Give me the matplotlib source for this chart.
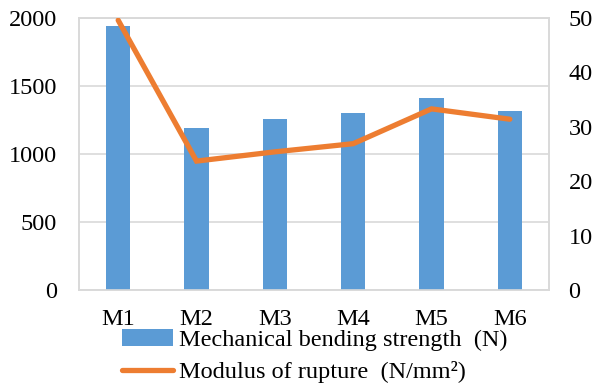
import matplotlib
matplotlib.use("Agg")
import matplotlib.pyplot as plt
import numpy as np

categories = ["M1", "M2", "M3", "M4", "M5", "M6"]
bending_strength = [1945, 1193, 1255, 1299, 1414, 1316]
modulus_rupture = [49.6, 23.7, 25.4, 26.9, 33.3, 31.4]
left_ticks = [0, 500, 1000, 1500, 2000]
right_ticks = [0, 10, 20, 30, 40, 50]

plt.rcParams['font.family'] = ['Liberation Serif', 'DejaVu Serif']

fig = plt.figure(figsize=(5.95, 3.84), dpi=100)
ax = fig.add_axes([0.1328, 0.2448, 0.7899, 0.7082])
ax2 = ax.twinx()

x = np.arange(len(categories))
bars = ax.bar(x, bending_strength, width=0.31, color="#5B9BD5", zorder=3,
              label="Mechanical bending strength  (N)")
line, = ax2.plot(x, modulus_rupture, color="#ED7D31", lw=3.8,
                 solid_capstyle="round", solid_joinstyle="miter", zorder=4,
                 label="Modulus of rupture  (N/mm²)")

ax.set_xlim(-0.5, len(categories) - 0.5)
ax.set_ylim(0, 2000)
ax2.set_ylim(0, 50)
ax.set_yticks(left_ticks)
ax2.set_yticks(right_ticks)
ax.set_xticks(x)
ax.set_xticklabels(categories)

fs = 17.5
ax.grid(axis="y", color="#D9D9D9", lw=1.2, zorder=0)
ax.set_axisbelow(True)
for a in (ax, ax2):
    for s in a.spines.values():
        s.set_color("#D9D9D9")
        s.set_linewidth(1.2)
ax.tick_params(axis="y", length=0, pad=16, labelsize=fs)
ax.tick_params(axis="x", length=0, pad=14, labelsize=fs)
ax2.tick_params(axis="y", length=0, pad=14, labelsize=fs)
ax2.set_zorder(ax.get_zorder() + 1)
ax2.patch.set_visible(False)

fig.legend([bars, line], [bars.get_label(), line.get_label()],
           loc="center", bbox_to_anchor=(0.529, 0.072), frameon=False,
           fontsize=fs, handlelength=2.1, handletextpad=0.25,
           labelspacing=0.42, borderpad=0)

fig.savefig("out.png", dpi=100)
